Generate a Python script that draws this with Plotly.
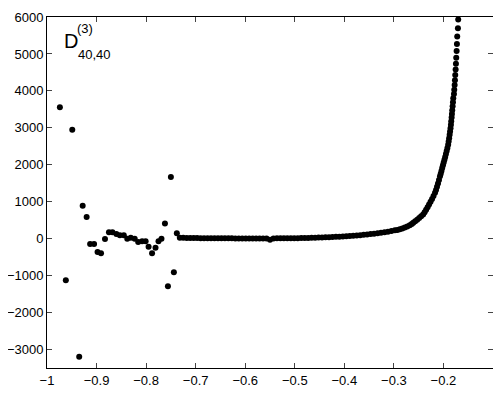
import plotly.graph_objects as go

# scattered part on the left
x_left = [-0.974, -0.962, -0.949, -0.935, -0.928, -0.920, -0.913, -0.905, -0.898, -0.891,
          -0.883, -0.875, -0.868, -0.860, -0.853, -0.845, -0.838, -0.831, -0.823, -0.816,
          -0.808, -0.801, -0.795, -0.788, -0.781, -0.775, -0.769, -0.762, -0.756, -0.750,
          -0.744, -0.738, -0.732]
y_left = [3560, -1127, 2946, -3197, 892, 586, -144, -144, -360, -396,
          -9, 171, 171, 126, 90, 90, 0, 27, 0, -90,
          -72, -72, -216, -396, -243, -72, 0, 414, -1288, 1667,
          -910, 144, 27]

# flat part, hugging zero
x_flat = [-0.725, -0.718, -0.711, -0.704, -0.697, -0.690, -0.683, -0.676, -0.669, -0.662,
          -0.655, -0.648, -0.641, -0.634, -0.627, -0.620, -0.613, -0.606, -0.599, -0.592,
          -0.585, -0.578, -0.571, -0.564, -0.557, -0.550, -0.543, -0.536, -0.529, -0.522,
          -0.515, -0.508, -0.501, -0.494, -0.487, -0.480, -0.473, -0.466, -0.459, -0.452,
          -0.445, -0.438, -0.431, -0.424, -0.417, -0.410, -0.403, -0.396, -0.389, -0.382,
          -0.375, -0.368, -0.361, -0.354, -0.347, -0.340, -0.333, -0.326, -0.319, -0.312,
          -0.305, -0.298]
y_flat = [22, 20, 18, 18, 16, 15, 14, 14, 12, 12,
          11, 10, 10, 9, 9, 8, 8, 8, 7, 7,
          7, 7, 7, 7, 8, -30, 8, 9, 9, 10,
          11, 12, 13, 15, 17, 19, 21, 24, 27, 30,
          33, 37, 41, 45, 50, 55, 61, 67, 73, 80,
          88, 96, 105, 114, 124, 135, 147, 160, 174, 190,
          207, 226]

# the blow-up towards the right
x_rise = [-0.293, -0.288, -0.283, -0.278, -0.273, -0.268, -0.264, -0.261, -0.257, -0.253,
          -0.249, -0.245, -0.241, -0.238, -0.235, -0.232, -0.229, -0.226, -0.223, -0.220,
          -0.217, -0.215, -0.213, -0.211, -0.209, -0.207, -0.2055, -0.204, -0.2025, -0.201,
          -0.1995, -0.198, -0.1965, -0.195, -0.1935, -0.192, -0.1905, -0.1895, -0.1885, -0.1875,
          -0.1866, -0.1857, -0.1849, -0.1843, -0.1835, -0.1829, -0.1823, -0.1815, -0.1808, -0.1802,
          -0.1788, -0.1782, -0.1774, -0.1768, -0.1762, -0.1754, -0.1748, -0.1742, -0.1734, -0.1728,
          -0.1722, -0.1708, -0.1702]
y_rise = [238, 252, 275, 300, 330, 365, 400, 431, 470, 515,
          560, 605, 655, 715, 780, 850, 925, 1000, 1075, 1155,
          1240, 1320, 1405, 1495, 1590, 1687, 1760, 1835, 1910, 1985,
          2060, 2135, 2210, 2290, 2370, 2455, 2540, 2630, 2720, 2810,
          2900, 2990, 3081, 3181, 3278, 3377, 3477, 3585, 3693, 3801,
          3916, 4032, 4159, 4290, 4430, 4580, 4735, 4900, 5080, 5270,
          5475, 5695, 5930]

x_ticks = [-1, -0.9, -0.8, -0.7, -0.6, -0.5, -0.4, -0.3, -0.2]
y_ticks = [-3000, -2000, -1000, 0, 1000, 2000, 3000, 4000, 5000, 6000]

FONT = "Liberation Sans, Arial, sans-serif"

xs = x_left + x_flat + x_rise
ys = y_left + y_flat + y_rise

fig = go.Figure(go.Scatter(
    x=xs, y=ys, mode="markers", cliponaxis=False,
    marker=dict(size=6, color="black", line=dict(width=0)),
))

axis = dict(showline=True, linecolor="black", linewidth=1, mirror="ticks",
            ticks="inside", ticklen=5, tickcolor="#444", tickwidth=1,
            showgrid=False, zeroline=False, automargin=False,
            tickfont=dict(family=FONT, size=13, color="black"))

fig.update_xaxes(range=[-1, -0.1], tickvals=x_ticks, **axis)
fig.update_yaxes(range=[-3500, 6000], tickvals=y_ticks, exponentformat="none", **axis)

for txt, xp, yp, sz in [("D", 0.033, 0.932, 20), ("(3)", 0.062, 0.968, 13), ("40,40", 0.064, 0.893, 13)]:
    fig.add_annotation(text=txt, x=xp, y=yp, xref="paper", yref="paper", showarrow=False,
                       xanchor="left", yanchor="middle",
                       font=dict(family=FONT, size=sz, color="black"))

# the page body adds an 8px offset, so the margins absorb it
fig.update_layout(
    width=501, height=396, showlegend=False,
    plot_bgcolor="white", paper_bgcolor="white",
    margin=dict(l=39, r=16, t=9, b=36),
)
fig.write_html("out.html")
